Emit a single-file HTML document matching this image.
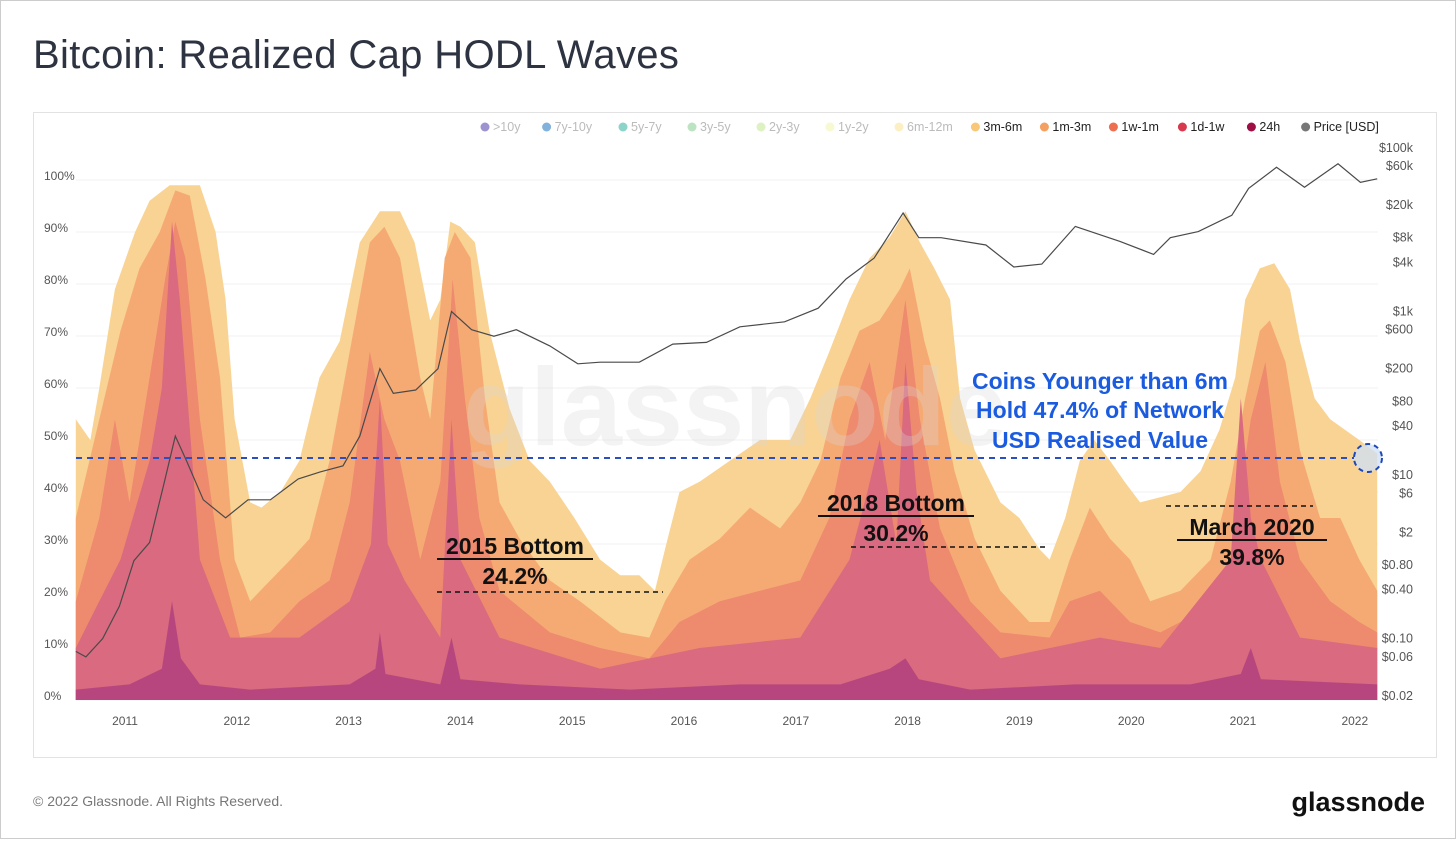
<!DOCTYPE html>
<html><head><meta charset="utf-8"><style>
html,body{margin:0;padding:0;background:#fff;}
body{width:1456px;height:839px;position:relative;overflow:hidden;font-family:"Liberation Sans",sans-serif;}
</style></head><body>
<svg id="c" width="1456" height="839" viewBox="0 0 1456 839" xmlns="http://www.w3.org/2000/svg">
<rect x="0.5" y="0.5" width="1455" height="838" fill="#fff" stroke="#ccc"/>
<text x="33" y="68" font-size="40" letter-spacing="0.35" fill="#2d3340" font-family="Liberation Sans, sans-serif">Bitcoin: Realized Cap HODL Waves</text>
<rect x="33.5" y="112.5" width="1403" height="645" fill="#fff" stroke="#e2e2e2"/>
<g id="grid"></g>
<g id="bands"></g>
<text x="735" y="445" font-size="110" font-weight="bold" fill="#d6d6d6" fill-opacity="0.3" text-anchor="middle">glassnode</text>
<g id="price"></g>
<g id="axes"></g>
<g id="legend"></g>
<g id="annot">
<line x1="76" y1="458" x2="1354" y2="458" stroke="#2a4fc0" stroke-width="2" stroke-dasharray="6,5"/>
<circle cx="1368" cy="458" r="14" fill="#cfe0f7" fill-opacity="0.75" stroke="#1e47b8" stroke-width="2" stroke-dasharray="5,4"/>
<g font-size="23" font-weight="bold" fill="#1a5be0" text-anchor="middle">
<text x="1100" y="389">Coins Younger than 6m</text>
<text x="1100" y="418">Hold 47.4% of Network</text>
<text x="1100" y="448">USD Realised Value</text>
</g>
<g font-size="23" font-weight="bold" fill="#111" text-anchor="middle">
<text x="515" y="554">2015 Bottom</text>
<line x1="437" y1="559" x2="593" y2="559" stroke="#111" stroke-width="2"/>
<text x="515" y="584">24.2%</text>
<line x1="437" y1="592" x2="663" y2="592" stroke="#111" stroke-width="1.5" stroke-dasharray="5,4"/>
<text x="896" y="511">2018 Bottom</text>
<line x1="818" y1="516" x2="974" y2="516" stroke="#111" stroke-width="2"/>
<text x="896" y="541">30.2%</text>
<line x1="851" y1="547" x2="1045" y2="547" stroke="#111" stroke-width="1.5" stroke-dasharray="5,4"/>
<text x="1252" y="535">March 2020</text>
<line x1="1177" y1="540" x2="1327" y2="540" stroke="#111" stroke-width="2"/>
<text x="1252" y="565">39.8%</text>
<line x1="1166" y1="506" x2="1313" y2="506" stroke="#111" stroke-width="1.5" stroke-dasharray="5,4"/>
</g>
</g>
<text x="33" y="806" font-size="14" fill="#777">© 2022 Glassnode. All Rights Reserved.</text>
<text x="1425" y="811" font-size="27" font-weight="bold" fill="#111" text-anchor="end">glassnode</text>
</svg>
<script>
// ---- data ----
const yearTicks = [2011,2012,2013,2014,2015,2016,2017,2018,2019,2020,2021,2022];
const pctTicks = [0,10,20,30,40,50,60,70,80,90,100];
const priceTicks = [0.02,0.06,0.10,0.40,0.80,2,6,10,40,80,200,600,1000,4000,8000,20000,60000,100000];
const priceTickLabels = ["$0.02","$0.06","$0.10","$0.40","$0.80","$2","$6","$10","$40","$80","$200","$600","$1k","$4k","$8k","$20k","$60k","$100k"];
const legendLabels = [">10y","7y-10y","5y-7y","3y-5y","2y-3y","1y-2y","6m-12m","3m-6m","1m-3m","1w-1m","1d-1w","24h","Price [USD]"];
const legendColors = ["#5b4bb0","#2f7fc4","#3fb5a5","#8fd19a","#c6e89a","#f2f6b0","#fbe59c","#f9c77a","#f4a063","#ee6e50","#d8394d","#9e0f45","#777"];
const legendActive = [0,0,0,0,0,0,0,1,1,1,1,1,1];

// cumulative tops (%) of each band, stacked from 24h upward
const d3m6m = [2010.56,2010.69,2010.77,2010.91,2011.09,2011.22,2011.40,2011.67,2011.81,2011.90,2011.98,2012.12,2012.22,2012.39,2012.56,2012.74,2012.92,2013.10,2013.28,2013.46,2013.59,2013.73,2013.82,2013.91,2014.00,2014.13,2014.26,2014.44,2014.62,2014.80,2015.02,2015.25,2015.43,2015.60,2015.74,2015.83,2015.96,2016.14,2016.41,2016.68,2016.95,2017.13,2017.30,2017.48,2017.66,2017.84,2017.98,2018.11,2018.24,2018.38,2018.47,2018.60,2018.83,2019.00,2019.18,2019.27,2019.41,2019.54,2019.67,2019.81,2019.94,2020.08,2020.26,2020.44,2020.62,2020.79,2020.93,2021.02,2021.15,2021.28,2021.42,2021.51,2021.64,2021.78,2021.91,2022.04,2022.20];
const v3m6m = [54,50,60,79,90,96,99,99,90,77,54,38,37,40,46,62,69,88,94,94,88,73,77,92,91,88,71,56,46,42,35,27,24,24,21,29,40,42,46,50,50,58,67,77,85,89,94,88,83,77,58,48,38,35,29,27,35,46,50,46,42,38,39,40,44,52,62,77,83,84,79,69,58,54,52,50,47.4];
const d1m3m = [2010.56,2010.77,2010.96,2011.13,2011.31,2011.45,2011.58,2011.72,2011.85,2011.98,2012.12,2012.30,2012.48,2012.65,2012.83,2013.01,2013.19,2013.32,2013.46,2013.64,2013.73,2013.86,2013.95,2014.09,2014.22,2014.35,2014.53,2014.80,2015.07,2015.43,2015.69,2015.83,2016.05,2016.32,2016.59,2016.86,2017.04,2017.22,2017.40,2017.57,2017.75,2017.93,2018.02,2018.15,2018.29,2018.42,2018.60,2018.83,2019.09,2019.27,2019.45,2019.63,2019.81,2019.99,2020.17,2020.44,2020.71,2020.89,2021.02,2021.15,2021.24,2021.38,2021.51,2021.69,2021.87,2022.04,2022.20];
const v1m3m = [35,54,71,83,90,98,97,81,62,27,19,23,27,31,46,67,88,91,85,62,54,85,90,85,58,38,31,23,19,13,12,19,27,31,37,33,38,46,62,71,73,79,83,69,58,44,31,21,15,15,27,37,31,27,19,21,27,42,58,71,73,65,48,35,35,27,21];
const d1w1m = [2010.56,2010.77,2010.91,2011.04,2011.22,2011.36,2011.45,2011.54,2011.67,2011.85,2012.03,2012.30,2012.56,2012.83,2013.01,2013.19,2013.32,2013.46,2013.64,2013.82,2013.93,2014.04,2014.17,2014.35,2014.80,2015.25,2015.69,2015.96,2016.32,2016.68,2017.04,2017.30,2017.48,2017.66,2017.80,2017.98,2018.11,2018.29,2018.56,2018.83,2019.27,2019.45,2019.72,2019.99,2020.26,2020.62,2020.89,2021.07,2021.20,2021.33,2021.51,2021.78,2022.04,2022.20];
const v1w1m = [19,35,54,38,62,81,92,85,54,27,12,13,19,23,38,67,54,46,27,42,81,58,35,21,13,10,8,15,19,21,23,35,54,65,50,77,54,33,19,13,12,19,21,15,13,17,27,54,65,42,27,19,15,13];
const d1d1w = [2010.56,2010.77,2010.96,2011.22,2011.33,2011.42,2011.49,2011.67,2011.94,2012.56,2013.01,2013.20,2013.28,2013.35,2013.50,2013.82,2013.92,2014.00,2014.35,2015.25,2016.14,2017.04,2017.48,2017.64,2017.75,2017.90,2017.98,2018.08,2018.20,2018.83,2019.72,2020.26,2020.89,2020.98,2021.07,2021.16,2021.51,2022.20];
const v1d1w = [10,19,27,46,60,92,77,27,12,12,19,30,58,30,23,12,54,27,12,6,10,12,27,40,50,30,65,40,23,8,12,10,27,58,35,27,12,10];
const d24h = [2010.56,2011.04,2011.33,2011.42,2011.50,2011.67,2012.12,2013.01,2013.24,2013.28,2013.33,2013.82,2013.92,2014.00,2014.53,2015.52,2016.50,2017.40,2017.84,2017.98,2018.10,2018.56,2019.50,2020.53,2020.98,2021.07,2021.16,2022.20];
const v24h = [2,3,6,19,8,3,2,3,6,13,5,3,12,4,3,2,3,3,6,8,4,2,3,3,5,10,4,3];

const priceDates = [2010.56,2010.65,2010.80,2010.95,2011.08,2011.22,2011.35,2011.45,2011.55,2011.70,2011.90,2012.10,2012.30,2012.55,2012.75,2012.95,2013.10,2013.28,2013.40,2013.60,2013.80,2013.92,2014.10,2014.30,2014.50,2014.80,2015.05,2015.25,2015.60,2015.90,2016.20,2016.50,2016.90,2017.20,2017.45,2017.70,2017.96,2018.10,2018.30,2018.70,2018.95,2019.20,2019.50,2019.90,2020.20,2020.35,2020.60,2020.90,2021.05,2021.30,2021.55,2021.85,2022.05,2022.20];
const priceVals = [0.07,0.06,0.10,0.25,0.9,1.5,8,30,15,5,3,5,5,9,11,13,30,200,100,110,200,1000,600,500,600,380,230,240,240,400,420,650,750,1100,2500,4500,16000,8000,8000,6500,3500,3800,11000,7200,5000,8000,9500,15000,32000,58000,33000,64000,38000,42000];

// ---- scales ----
const X0=125, PXY=111.8;
const xS = yr => X0 + (yr-2011)*PXY;
const yS = p => 700 - p*5.2;
const yP = v => 696 - (Math.log10(v)+1.7)*81.8;
const NS="http://www.w3.org/2000/svg";
function mk(tag, attrs, parent){const e=document.createElementNS(NS,tag);for(const k in attrs)e.setAttribute(k,attrs[k]);parent.appendChild(e);return e;}

const grid=document.getElementById('grid');
pctTicks.forEach(t=>{
  const l=mk('line',{x1:76,x2:1378,y1:yS(t),y2:yS(t),stroke:'#f0f0f0','stroke-width':1},grid);
  
  
});

const bands=document.getElementById('bands');
const series=[
 ['band-3m-6m',d3m6m,v3m6m,'#f9d393'],
 ['band-1m-3m',d1m3m,v1m3m,'#f5aa74'],
 ['band-1w-1m',d1w1m,v1w1m,'#ee8a6e'],
 ['band-1d-1w',d1d1w,v1d1w,'#d96a7f'],
 ['band-24h',d24h,v24h,'#b8467e']
];
series.forEach(s=>{
  const ds=s[1], vs=s[2];
  let d='M'+xS(ds[0]).toFixed(1)+','+yS(0);
  for(let i=0;i<ds.length;i++) d+=' L'+xS(ds[i]).toFixed(1)+','+yS(vs[i]).toFixed(1);
  d+=' L'+xS(ds[ds.length-1]).toFixed(1)+','+yS(0)+' Z';
  const p=mk('path',{d:d,fill:s[3]},bands);
  
  
});

const pg=document.getElementById('price');
let pd='';
priceDates.forEach((t,i)=>{pd+=(i?' L':'M')+xS(t).toFixed(1)+','+yP(priceVals[i]).toFixed(1);});
const pl=mk('path',{d:pd,fill:'none',stroke:'#4a4a4a','stroke-width':1.2},pg);



const ax=document.getElementById('axes');
pctTicks.forEach(t=>{
  const e=mk('text',{x:44,y:yS(t)+0,'font-size':12,fill:'#555'},ax);
  e.textContent=t+'%';
  
  
});
yearTicks.forEach(t=>{
  const e=mk('text',{x:xS(t),y:725,'font-size':12,fill:'#555','text-anchor':'middle'},ax);
  e.textContent=t;
  
  
});
priceTicks.forEach((t,i)=>{
  const e=mk('text',{x:1413,y:yP(t)+4,'font-size':12.5,fill:'#555','text-anchor':'end'},ax);
  e.textContent=priceTickLabels[i];
  
  
});

const lg=document.getElementById('legend');
let lx=480;
legendLabels.forEach((t,i)=>{
  const g=mk('g',{},lg);
  
  
  mk('circle',{cx:lx+5,cy:127,r:4.5,fill:legendColors[i],'fill-opacity':legendActive[i]?1:0.6},g);
  const e=mk('text',{x:lx+13,y:131,'font-size':12.5,fill:legendActive[i]?'#222':'#bbb'},g);
  e.textContent=t;
  lx += 13 + t.length*7.4 + 19;
});
</script>
</body></html>
